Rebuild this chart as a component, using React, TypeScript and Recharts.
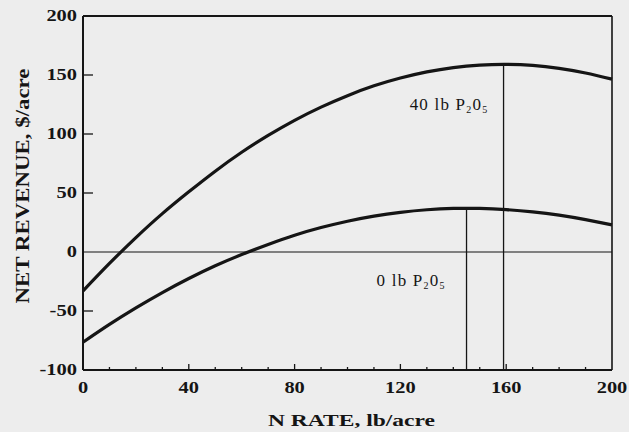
import React from 'react';
import { ComposedChart, Line, XAxis, YAxis, ReferenceLine, ReferenceDot } from 'recharts';

const nRate = [0, 10, 20, 30, 40, 50, 60, 70, 80, 90, 100, 110, 120, 130, 140, 150, 160, 170, 180, 190, 200];
const revenue40P = [-33, -9.7, 12.2, 32.5, 51, 68.5, 84.5, 98.8, 111.6, 122.8, 132.5, 140.8, 147.4, 152.6, 156.3, 158.4, 159, 158.1, 155.6, 151.7, 146.5];
const revenue0P = [-76.5, -61.4, -47.4, -34.4, -22.5, -11.7, -2.2, 6.4, 14.2, 20.7, 26.1, 30.4, 33.6, 35.8, 36.9, 36.9, 35.9, 34.0, 31.2, 27.4, 23];
const xTicks = [0, 10, 20, 30, 40, 50, 60, 70, 80, 90, 100, 110, 120, 130, 140, 150, 160, 170, 180, 190, 200];
const xLabelTicks = [0, 40, 80, 120, 160, 200];
const yTicks = [-100, -50, 0, 50, 100, 150, 200];
const yInnerTicks = [150, 100, 50, -50];
const optimum40P = { n: 159, rev: 159 };
const optimum0P = { n: 145, rev: 37 };
const label40P = { n: 123.5, rev: 120.3, lead: '40 lb P', mid: '0' };
const label0P = { n: 111, rev: -28.6, lead: '0 lb P', mid: '0' };

const data = nRate.map((n, i) => ({ n, p40: revenue40P[i], p0: revenue0P[i] }));

const INK = '#151515';
const PAPER = '#ededed';
const SERIF = 'Liberation Serif';

if (typeof document !== 'undefined') {
  document.body.style.margin = '0';
  document.body.style.background = PAPER;
  document.documentElement.style.background = PAPER;
}

const tickTextLength = (s: string) => {
  let w = 0;
  for (const c of s) w += c === '-' ? 7 : 10.2;
  return w;
};

const XTick = (props: any) => {
  const { x, y, payload } = props;
  const v = payload.value as number;
  const major = xLabelTicks.includes(v);
  const s = String(v);
  return (
    <g>
      {v > 0 && v < 200 && (
        <line x1={x} x2={x} y1={y} y2={y - (major ? 6 : 3)} stroke={INK} strokeWidth={1.3} />
      )}
      {major && (
        <text
          x={x}
          y={y + 23}
          textAnchor="middle"
          fontFamily={SERIF}
          fontWeight="bold"
          fontSize={16}
          fill={INK}
          textLength={tickTextLength(s)}
          lengthAdjust="spacingAndGlyphs"
        >
          {s}
        </text>
      )}
    </g>
  );
};

const YTick = (props: any) => {
  const { x, y, payload } = props;
  const v = payload.value as number;
  const s = String(v);
  return (
    <g>
      {yInnerTicks.includes(v) && <line x1={x} x2={x + 10} y1={y} y2={y} stroke={INK} strokeWidth={1.3} />}
      <text
        x={x - 6}
        y={y + 5.4}
        textAnchor="end"
        fontFamily={SERIF}
        fontWeight="bold"
        fontSize={16}
        fill={INK}
        textLength={tickTextLength(s)}
        lengthAdjust="spacingAndGlyphs"
      >
        {s}
      </text>
    </g>
  );
};

const makeAnno = (info: { lead: string; mid: string }) => (p: any) => {
  const vb = p.viewBox || {};
  const x = (vb.x || 0) + (vb.width || 0) / 2;
  const y = (vb.y || 0) + (vb.height || 0) / 2;
  return (
    <text x={x} y={y} fontFamily={SERIF} fontSize={17} fill={INK} letterSpacing={1.2}>
      {info.lead}
      <tspan fontSize={10} dy={3}>2</tspan>
      <tspan dy={-3}>{info.mid}</tspan>
      <tspan fontSize={10} dy={3}>5</tspan>
    </text>
  );
};

const XTitle = (p: any) => {
  const vb = p.viewBox || {};
  const cx = (vb.x || 0) + (vb.width || 0) / 2 + 4;
  return (
    <text
      x={cx}
      y={426}
      textAnchor="middle"
      fontFamily={SERIF}
      fontWeight="bold"
      fontSize={17}
      fill={INK}
      textLength={167}
      lengthAdjust="spacingAndGlyphs"
    >
      N RATE, lb/acre
    </text>
  );
};

const YTitle = () => {
  const x = 29;
  const y = 186;
  return (
    <text
      x={x}
      y={y}
      transform={`rotate(-90, ${x}, ${y})`}
      textAnchor="middle"
      fontFamily={SERIF}
      fontWeight="bold"
      fontSize={19}
      fill={INK}
      textLength={235}
      lengthAdjust="spacingAndGlyphs"
    >
      NET REVENUE, $/acre
    </text>
  );
};

export default function App() {
  return (
    <div style={{ position: 'absolute', left: 0, top: 0, width: 629, height: 432, background: PAPER }}>
      <ComposedChart
        width={629}
        height={432}
        data={data}
        margin={{ top: 16, right: 17, left: 0, bottom: 0 }}
      >
        <XAxis
          dataKey="n"
          type="number"
          domain={[0, 200]}
          ticks={xTicks}
          interval={0}
          tickSize={0}
          tickMargin={0}
          tickLine={false}
          height={62}
          axisLine={{ stroke: INK, strokeWidth: 2 }}
          tick={<XTick />}
          label={<XTitle />}
        />
        <YAxis
          type="number"
          domain={[-100, 200]}
          ticks={yTicks}
          interval={0}
          tickSize={0}
          tickMargin={0}
          tickLine={false}
          width={83}
          axisLine={{ stroke: INK, strokeWidth: 2 }}
          tick={<YTick />}
          label={<YTitle />}
        />
        <ReferenceLine y={200} stroke={INK} strokeWidth={2} />
        <ReferenceLine x={200} stroke={INK} strokeWidth={1.6} />
        <ReferenceLine y={0} stroke={INK} strokeWidth={1.2} />
        <ReferenceLine
          segment={[{ x: optimum0P.n, y: -100 }, { x: optimum0P.n, y: optimum0P.rev }]}
          stroke={INK}
          strokeWidth={1.3}
        />
        <ReferenceLine
          segment={[{ x: optimum40P.n, y: -100 }, { x: optimum40P.n, y: optimum40P.rev }]}
          stroke={INK}
          strokeWidth={1.3}
        />
        <Line
          type="natural"
          dataKey="p40"
          stroke={INK}
          strokeWidth={3.2}
          dot={false}
          isAnimationActive={false}
        />
        <Line
          type="natural"
          dataKey="p0"
          stroke={INK}
          strokeWidth={3.2}
          dot={false}
          isAnimationActive={false}
        />
        <ReferenceDot
          x={label40P.n}
          y={label40P.rev}
          r={1}
          fill="none"
          stroke="none"
          label={makeAnno(label40P)}
        />
        <ReferenceDot
          x={label0P.n}
          y={label0P.rev}
          r={1}
          fill="none"
          stroke="none"
          label={makeAnno(label0P)}
        />
      </ComposedChart>
    </div>
  );
}
